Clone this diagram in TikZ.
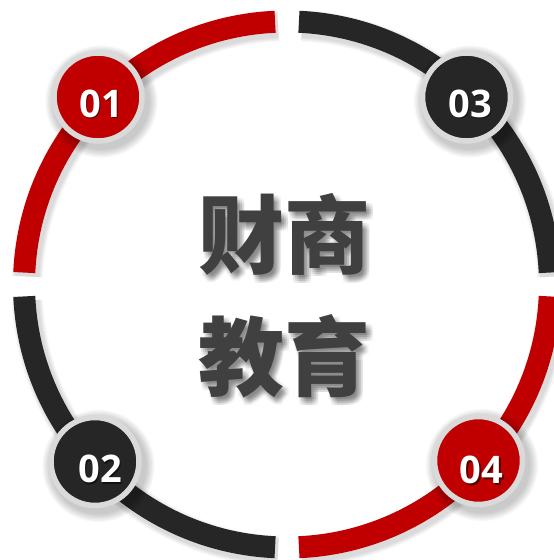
\documentclass[tikz,border=0pt]{standalone}
\usepackage{fontspec}
\newfontfamily\cjk{Noto Sans CJK SC}
\newfontfamily\numf{Open Sans}
\usetikzlibrary{calc}
\definecolor{myred}{HTML}{C00000}
\definecolor{mydark}{HTML}{262626}
\definecolor{ringgray}{HTML}{DADADA}
\definecolor{txtgray}{HTML}{404040}
\tikzset{
  ringarc/.style={line width=22pt, line cap=butt},
  numcirc/.style={circle, minimum size=88pt, inner sep=0pt, draw=ringgray, line width=5.5pt},
  numtext/.style={text=white, font=\numf\bfseries\fontsize{38}{38}\selectfont, inner sep=0pt},
  numshadow/.style={text=black, text opacity=0.55, font=\numf\bfseries\fontsize{38}{38}\selectfont, inner sep=0pt},
  cjktext/.style={text=txtgray, font=\cjk\bfseries\fontsize{86}{86}\selectfont, inner sep=0pt},
  cjkshadow/.style={text=black, text opacity=0.035, font=\cjk\bfseries\fontsize{86}{86}\selectfont, inner sep=0pt}
}
\newcommand{\myarc}[3]{% color, start, end
  \foreach \k in {1,...,6}{
    \draw[line width={22pt+1.6*\k pt}, draw=black, draw opacity=0.025]
      ($(C)+(3,-4)+(#2:263)$) arc[start angle=#2, end angle=#3, radius=263];
  }
  \draw[ringarc, #1] ($(C)+(#2:263)$) arc[start angle=#2, end angle=#3, radius=263];
}
\begin{document}
\begin{tikzpicture}[x=1pt,y=1pt]
\useasboundingbox (0,0) rectangle (554,560);
\fill[white] (0,0) rectangle (554,560);
\coordinate (C) at (287,275.5);
% ring
\myarc{myred}{92.6}{177.4}
\myarc{mydark}{2.6}{87.4}
\myarc{mydark}{182.6}{267.4}
\myarc{myred}{272.6}{357.4}
% circle shadows
\foreach \p in {(98,463),(466.5,463),(95,98.5),(478.5,99.5)}{
  \foreach \k in {1,...,7}{
    \fill[black, opacity=0.03] \p ++(3.5,-4.5) circle ({47+1.3*\k});
  }
}
% numbered circles
\node[numcirc, fill=myred] (c1) at (98,463) {};
\node[numcirc, fill=mydark] (c3) at (466.5,463) {};
\node[numcirc, fill=mydark] (c2) at (95,98.5) {};
\node[numcirc, fill=myred] (c4) at (478.5,99.5) {};
% number labels with a dark drop shadow
\foreach \x/\y/\t/\n in {101/456.5/01/t1, 470/456.5/03/t3, 100/91/02/t2, 481.5/90/04/t4}{
  \node[numshadow] at (\x+1.5,\y-1.5) {\t};
  \node[numtext] (\n) at (\x,\y) {\t};
}
% soft shadow of the central text
\foreach \dx in {1,3,5,7}{
  \foreach \dy in {-2,-4,-6,-8}{
    \node[cjkshadow] at (284.5+\dx,326+\dy) {财商};
    \node[cjkshadow] at (284.5+\dx,204+\dy) {教育};
  }
}
\node[cjktext] (l1) at (284.5,326) {财商};
\node[cjktext] (l2) at (284.5,204) {教育};
\end{tikzpicture}
\end{document}
